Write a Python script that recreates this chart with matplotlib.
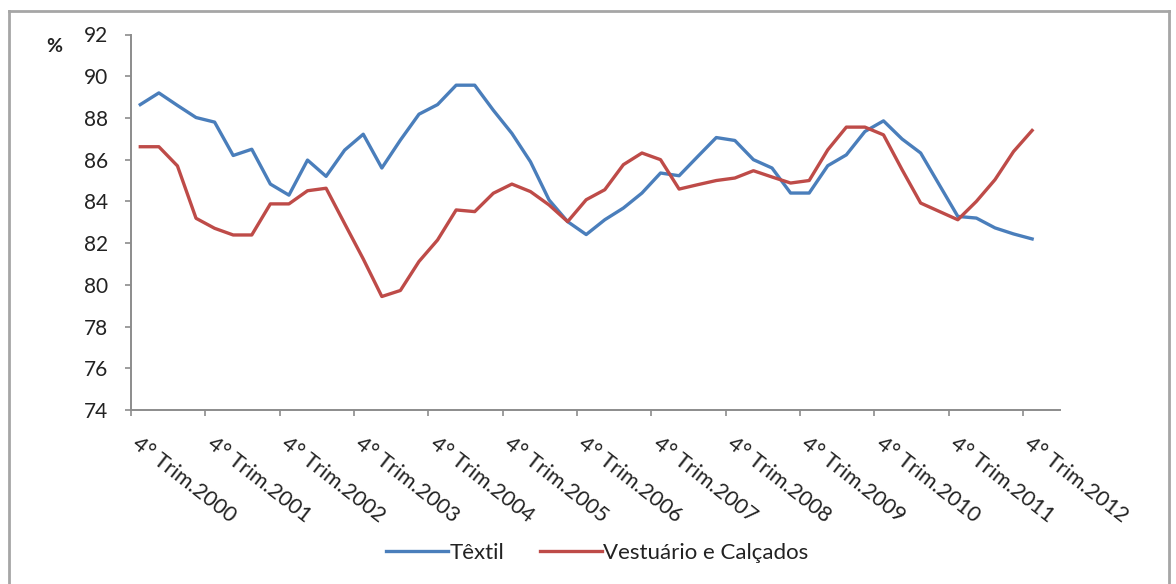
import matplotlib
matplotlib.use("Agg")
import matplotlib.pyplot as plt
import numpy as np
from matplotlib.lines import Line2D

# ---- data ----
years = list(range(2000, 2013))
quarters = ["4° Trim.2000"] + [f"{q}° Trim.{y}" for y in range(2001, 2013) for q in (1, 2, 3, 4)]
tick_labels = [f"4° Trim.{y}" for y in years]

textil = [88.64, 89.20, 88.6, 88.02, 87.8, 86.2, 86.5, 84.83, 84.3, 85.98,
          85.2, 86.46, 87.22, 85.6, 86.94, 88.18, 88.64, 89.57, 89.57, 88.37,
          87.26, 85.9, 84.07, 83.03, 82.41, 83.12, 83.68, 84.4, 85.36, 85.23,
          86.15, 87.06, 86.92, 86.0, 85.6, 84.4, 84.4, 85.71, 86.23, 87.35,
          87.86, 86.99, 86.32, 84.8, 83.28, 83.2, 82.73, 82.44, 82.2]
vestuario = [86.62, 86.62, 85.7, 83.19, 82.71, 82.39, 82.39, 83.88, 83.88, 84.51,
             84.63, 82.93, 81.24, 79.44, 79.73, 81.12, 82.15, 83.59, 83.51, 84.39,
             84.83, 84.47, 83.83, 83.03, 84.08, 84.56, 85.76, 86.32, 86.0, 84.59,
             84.8, 85.0, 85.12, 85.47, 85.17, 84.88, 85.0, 86.47, 87.56, 87.56,
             87.19, 85.52, 83.92, 83.52, 83.12, 84.0, 85.04, 86.39, 87.4]
series_names = ["Têxtil", "Vestuário e Calçados"]
yticks = list(range(74, 93, 2))

plt.rcParams['font.family'] = ['Lato', 'DejaVu Sans']

W, H = 1176, 584
fig = plt.figure(figsize=(W / 100, H / 100), dpi=100)
fig.patch.set_facecolor('white')
ax = fig.add_axes([131 / W, 1 - 410 / H, (1060 - 131) / W, (410 - 34.5) / H])

x = np.arange(len(quarters))
ax.plot(x, textil, color='#4A7EBB', lw=2.4, label=series_names[0], solid_joinstyle='round')
ax.plot(x, vestuario, color='#BE4B48', lw=2.4, label=series_names[1], solid_joinstyle='round')

ax.set_xlim(-0.5, len(quarters) + 0.5)
ax.set_ylim(74, 92)
ax.set_yticks(yticks)
ax.set_yticklabels([str(v) for v in yticks])

# major ticks at category boundaries every 4 quarters, labels on minor ticks
major = [4 * k - 0.5 for k in range(len(years))]
ax.set_xticks(major)
ax.set_xticklabels([])
ax.set_xticks([4 * k + 0.05 for k in range(len(years))], minor=True)
ax.set_xticklabels(tick_labels, minor=True, rotation=-38, ha='left', va='top',
                   rotation_mode='anchor', fontsize=15.5, color='#222222')
ax.tick_params(axis='x', which='minor', length=0, pad=17)
ax.tick_params(axis='x', which='major', direction='out', length=4.5, color='#8c8c8c', width=1.2)
ax.tick_params(axis='y', direction='out', length=4.5, color='#8c8c8c', width=1.2,
               labelsize=15, labelcolor='#222222', pad=12)

for s in ['top', 'right']:
    ax.spines[s].set_visible(False)
for s in ['left', 'bottom']:
    ax.spines[s].set_color('#8c8c8c')
    ax.spines[s].set_linewidth(1.4)

fig.text(54 / W, 1 - 46 / H, '%', fontsize=14, fontweight='bold', ha='center', va='center',
         color='#222222')

leg = fig.legend(loc='center', bbox_to_anchor=((378 + 816) / 2 / W, 1 - 553 / H), ncol=2,
                 frameon=False, fontsize=16, handlelength=2.8, handletextpad=0.05,
                 columnspacing=1.6)
for t in leg.get_texts():
    t.set_color('#222222')

# outer border
for (x0, y0, x1, y1) in [(9, 11, 1169, 11), (9, 11, 9, 584), (1169, 11, 1169, 584)]:
    fig.add_artist(Line2D([x0 / W, x1 / W], [1 - y0 / H, 1 - y1 / H], transform=fig.transFigure,
                          color='#a6a6a6', lw=2.0))

fig.savefig('out.png', dpi=100)
